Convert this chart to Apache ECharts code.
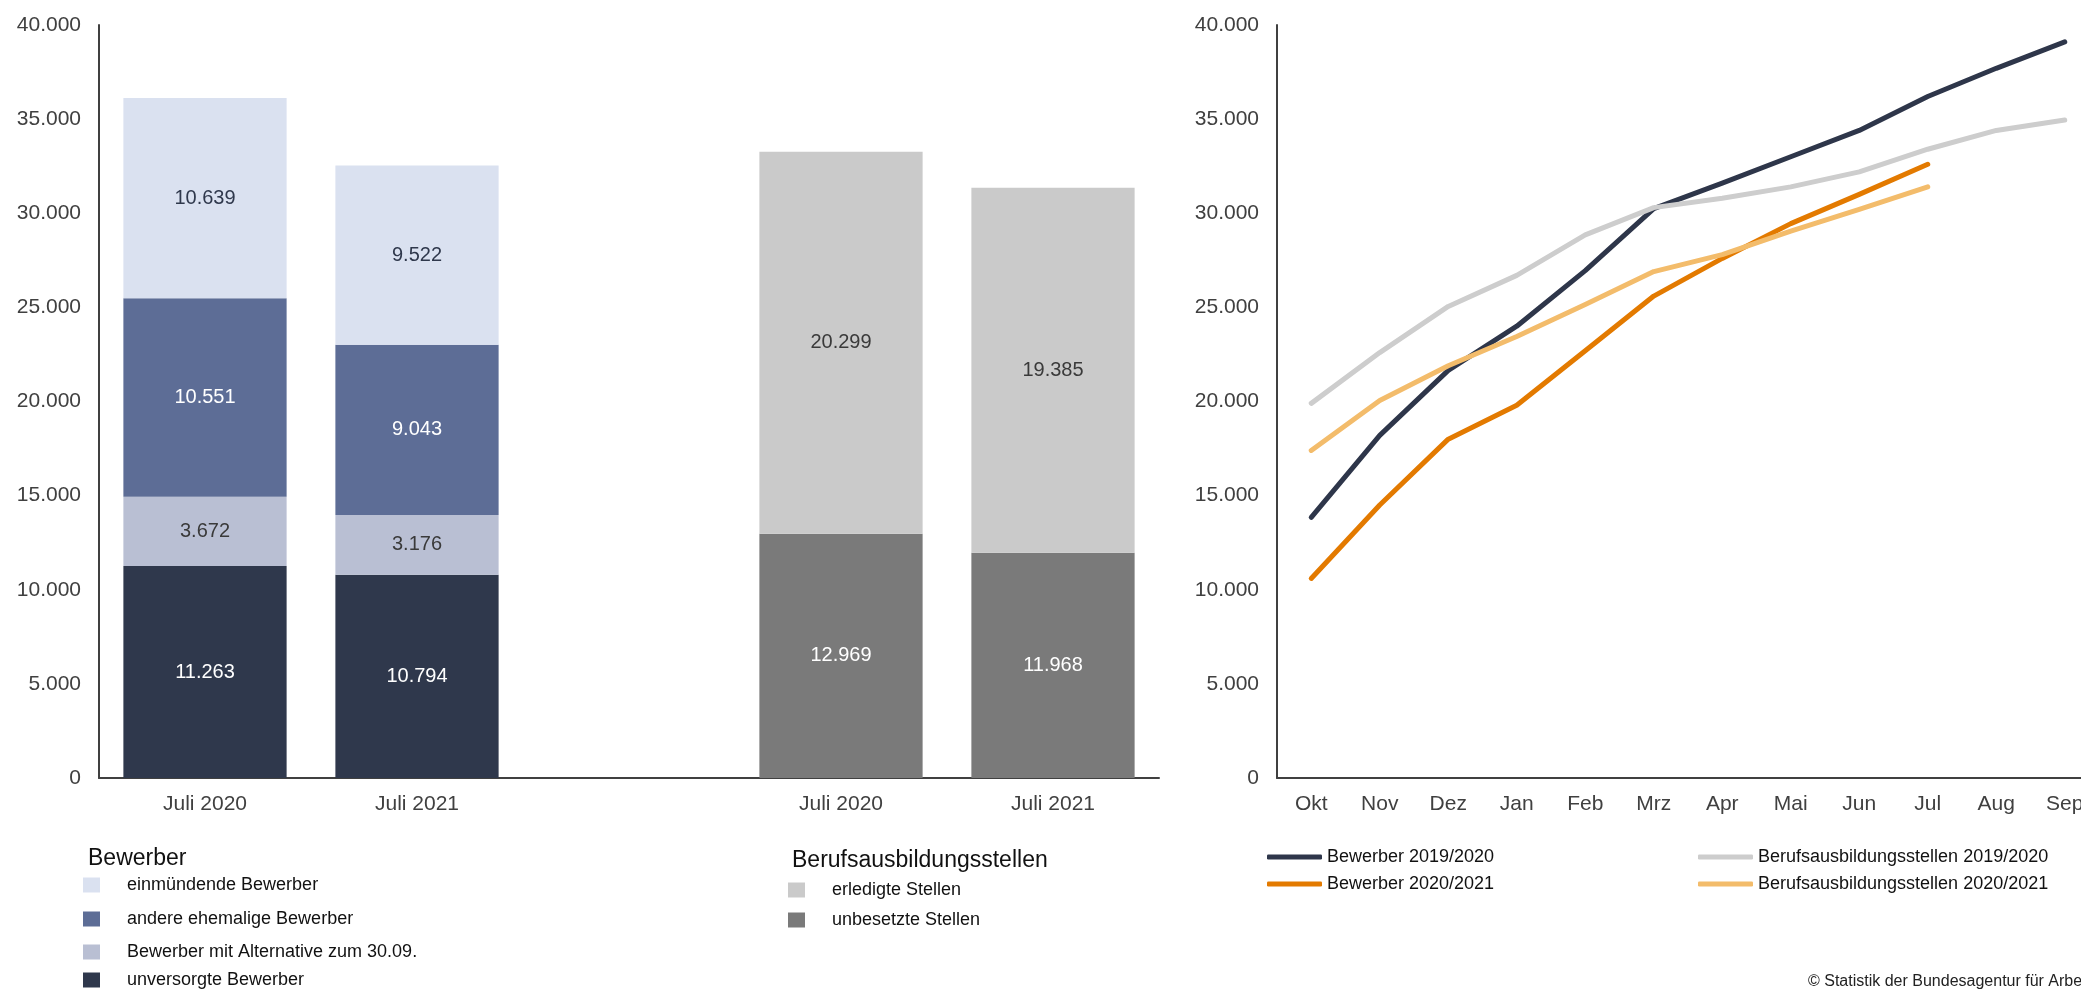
<!DOCTYPE html>
<html>
<head>
<meta charset="utf-8">
<script src="https://cdn.jsdelivr.net/npm/echarts@6/dist/echarts.min.js"></script>
<style>
html,body{margin:0;padding:0;background:#fff;}
#chart{width:2081px;height:991px;}
</style>
</head>
<body>
<div id="chart"></div>
<script>
// ---- data ----
const barCategories = ['Juli 2020', 'Juli 2021', '', 'Juli 2020', 'Juli 2021'];
const unversorgt   = [11263, 10794, '-', '-', '-'];
const alternative  = [3672, 3176, '-', '-', '-'];
const andere       = [10551, 9043, '-', '-', '-'];
const einmuendend  = [10639, 9522, '-', '-', '-'];
const unbesetzt    = ['-', '-', '-', 12969, 11968];
const erledigt     = ['-', '-', '-', 20299, 19385];

const months = ['Okt', 'Nov', 'Dez', 'Jan', 'Feb', 'Mrz', 'Apr', 'Mai', 'Jun', 'Jul', 'Aug', 'Sep'];
const bewerber1920 = [13850, 18200, 21650, 24000, 26950, 30250, 31600, 33000, 34400, 36200, 37700, 39100];
const bewerber2021 = [10600, 14500, 18000, 19800, 22700, 25600, 27600, 29450, 31000, 32600];
const stellen1920  = [19900, 22600, 25050, 26700, 28850, 30300, 30800, 31400, 32200, 33400, 34400, 34950];
const stellen2021  = [17400, 20050, 21900, 23450, 25150, 26900, 27800, 29050, 30200, 31400];

const FONT = "'Liberation Sans', Arial, sans-serif";
const fmt = v => String(v).replace(/\B(?=(\d{3})+(?!\d))/g, '.');

const barDefs = [
  {name: 'unversorgte Bewerber', data: unversorgt, color: '#2F384C', label: '#FFFFFF'},
  {name: 'Bewerber mit Alternative zum 30.09.', data: alternative, color: '#B9BFD3', label: '#3A3A3A'},
  {name: 'andere ehemalige Bewerber', data: andere, color: '#5D6D96', label: '#FFFFFF'},
  {name: 'einmündende Bewerber', data: einmuendend, color: '#DAE1F0', label: '#2F384C'},
  {name: 'unbesetzte Stellen', data: unbesetzt, color: '#7A7A7A', label: '#FFFFFF'},
  {name: 'erledigte Stellen', data: erledigt, color: '#CACACA', label: '#3A3A3A'}
];
const lineDefs = [
  {name: 'Bewerber 2019/2020', data: bewerber1920, color: '#2E364A'},
  {name: 'Bewerber 2020/2021', data: bewerber2021, color: '#E37A00'},
  {name: 'Berufsausbildungsstellen 2019/2020', data: stellen1920, color: '#CDCDCD'},
  {name: 'Berufsausbildungsstellen 2020/2021', data: stellen2021, color: '#F3BC6B'}
];

const series = [];
barDefs.forEach(d => series.push({
  type: 'bar', name: d.name, data: d.data, stack: 'total',
  xAxisIndex: 0, yAxisIndex: 0, barCategoryGap: '23%',
  itemStyle: {color: d.color},
  label: {show: true, position: 'inside', formatter: p => fmt(p.value),
          color: d.label, fontSize: 20, fontFamily: FONT},
  emphasis: {disabled: true}
}));
lineDefs.forEach(d => series.push({
  type: 'line', name: d.name, data: d.data, xAxisIndex: 1, yAxisIndex: 1,
  showSymbol: false, symbol: 'none', smooth: false,
  itemStyle: {color: d.color},
  lineStyle: {color: d.color, width: 5, cap: 'round', join: 'round'},
  emphasis: {disabled: true}
}));

function legendItem(name, left, top, opts) {
  return Object.assign({
    data: [name], left: left, top: top, orient: 'vertical', padding: 0,
    selectedMode: false, icon: 'rect', itemWidth: 17, itemHeight: 15,
    textStyle: {fontSize: 18, color: '#111', fontFamily: FONT, padding: [0, 0, 0, 22]}
  }, opts || {});
}
const lineLegendOpts = {icon: 'roundRect', itemWidth: 55, itemHeight: 5,
  textStyle: {fontSize: 18, color: '#111', fontFamily: FONT}};

const legends = [
  legendItem('einmündende Bewerber', 83, 876),
  legendItem('andere ehemalige Bewerber', 83, 910),
  legendItem('Bewerber mit Alternative zum 30.09.', 83, 943),
  legendItem('unversorgte Bewerber', 83, 971),
  legendItem('erledigte Stellen', 788, 881),
  legendItem('unbesetzte Stellen', 788, 911),
  legendItem('Bewerber 2019/2020', 1267, 848, lineLegendOpts),
  legendItem('Bewerber 2020/2021', 1267, 875, lineLegendOpts),
  legendItem('Berufsausbildungsstellen 2019/2020', 1698, 848, lineLegendOpts),
  legendItem('Berufsausbildungsstellen 2020/2021', 1698, 875, lineLegendOpts)
];

const axisColor = '#404040';
const yAxisCommon = {
  type: 'value', min: 0, max: 40000, interval: 5000,
  splitLine: {show: false}, axisTick: {show: false},
  axisLine: {show: true, lineStyle: {color: axisColor, width: 2}},
  axisLabel: {formatter: fmt, color: axisColor, fontSize: 21, fontFamily: FONT, margin: 18}
};
const xAxisCommon = {
  type: 'category', axisTick: {show: false},
  axisLine: {show: true, lineStyle: {color: axisColor, width: 2}},
  axisLabel: {color: axisColor, fontSize: 21, fontFamily: FONT, margin: 16, interval: 0}
};

const chart = echarts.init(document.getElementById('chart'), null, {renderer: 'canvas'});
chart.setOption({
  animation: false,
  backgroundColor: '#fff',
  textStyle: {fontFamily: FONT},
  grid: [
    {left: 99, top: 25, width: 1060, height: 753, outerBoundsMode: 'none', containLabel: false},
    {left: 1277, top: 25, width: 822, height: 753, outerBoundsMode: 'none', containLabel: false}
  ],
  xAxis: [
    Object.assign({}, xAxisCommon, {gridIndex: 0, data: barCategories}),
    Object.assign({}, xAxisCommon, {gridIndex: 1, data: months, boundaryGap: true})
  ],
  yAxis: [
    Object.assign({}, yAxisCommon, {gridIndex: 0}),
    Object.assign({}, yAxisCommon, {gridIndex: 1})
  ],
  legend: legends,
  graphic: [
    {type: 'text', left: 88, top: 847, style: {text: 'Bewerber', font: "23px 'Liberation Sans', Arial", fill: '#111'}},
    {type: 'text', left: 792, top: 849, style: {text: 'Berufsausbildungsstellen', font: "23px 'Liberation Sans', Arial", fill: '#111'}},
    {type: 'text', left: 1808, top: 974, style: {text: '© Statistik der Bundesagentur für Arbeit', font: "16px 'Liberation Sans', Arial", fill: '#222'}}
  ],
  series: series
});
</script>
</body>
</html>
